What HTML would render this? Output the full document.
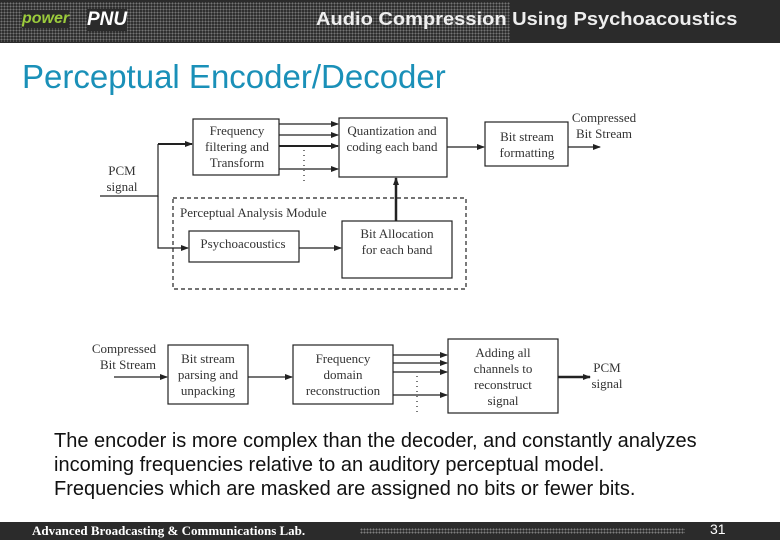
<!DOCTYPE html>
<html><head><meta charset="utf-8"><style>
body{margin:0;width:780px;height:540px;overflow:hidden;background:#fff;position:relative;font-family:"Liberation Sans",sans-serif}
.hdr{position:absolute;left:0;top:0;width:780px;height:43px;background:#2b2b2b}
.dots{position:absolute;background-image:radial-gradient(#888 0.9px,transparent 1.1px);background-size:3px 3px}
.ftr{position:absolute;left:0;top:522px;width:780px;height:18px;background:#2b2b2b}
</style></head><body>
<div class="hdr"></div>
<div class="dots" style="left:0;top:2px;width:510px;height:40px;opacity:.8"></div>
<div style="position:absolute;left:22px;top:10px;color:#9ccc3c;font-style:italic;font-size:16px;font-weight:bold;background:#2b2b2b">power</div>
<div style="position:absolute;left:87px;top:9px;color:#fff;font-style:italic;font-size:19px;font-weight:bold;background:#2b2b2b">PNU</div>
<div style="position:absolute;left:316px;top:9px;color:#eee;font-size:17px;font-weight:bold;transform:scale(1.18,1.08);transform-origin:0 0;white-space:nowrap">Audio Compression Using Psychoacoustics</div>
<div style="position:absolute;left:22px;top:58px;color:#1a90b8;font-size:33px;white-space:nowrap">Perceptual Encoder/Decoder</div>
<svg width="780" height="540" style="position:absolute;left:0;top:0" font-family="Liberation Serif,serif" font-size="13" fill="#333">
<defs><marker id="a" markerWidth="8" markerHeight="6" refX="7" refY="3" orient="auto" markerUnits="userSpaceOnUse"><path d="M0,0L8,3L0,6z" fill="#222"/></marker></defs>
<g stroke="#222" fill="none" stroke-width="1.2">
<rect x="193" y="119" width="86" height="56" fill="#fff"/>
<rect x="339" y="118" width="108" height="59" fill="#fff"/>
<rect x="485" y="122" width="83" height="44" fill="#fff"/>
<rect x="173" y="198" width="293" height="91" stroke-dasharray="4,3"/>
<rect x="189" y="231" width="110" height="31" fill="#fff"/>
<rect x="342" y="221" width="110" height="57" fill="#fff"/>
<path d="M100,196H158V144" /><path d="M158,144H192" stroke-width="2" marker-end="url(#a)"/>
<path d="M158,196V248H188" marker-end="url(#a)"/>
<path d="M279,124H338" marker-end="url(#a)"/>
<path d="M279,135H338" marker-end="url(#a)"/>
<path d="M279,169H338" marker-end="url(#a)"/>
<path d="M279,146H338" stroke-width="2" marker-end="url(#a)"/>
<path d="M304,150V182" stroke-dasharray="1,4"/>
<path d="M447,147H484" marker-end="url(#a)"/>
<path d="M568,147H600" marker-end="url(#a)"/>
<path d="M299,248H341" marker-end="url(#a)"/>
<path d="M396,221V178" stroke-width="2.5" marker-end="url(#a)"/>
<rect x="168" y="345" width="80" height="59" fill="#fff"/>
<rect x="293" y="345" width="100" height="59" fill="#fff"/>
<rect x="448" y="339" width="110" height="74" fill="#fff"/>
<path d="M114,377H167" marker-end="url(#a)"/>
<path d="M248,377H292" marker-end="url(#a)"/>
<path d="M393,355H447" marker-end="url(#a)"/>
<path d="M393,363H447" marker-end="url(#a)"/>
<path d="M393,372H447" marker-end="url(#a)"/>
<path d="M393,395H447" marker-end="url(#a)"/>
<path d="M417,376V412" stroke-dasharray="1,4"/>
<path d="M558,377H590" stroke-width="2.5" marker-end="url(#a)"/>
</g>
<g text-anchor="middle">
<text x="237" y="135">Frequency</text><text x="237" y="151">filtering and</text><text x="237" y="167">Transform</text>
<text x="392" y="135">Quantization and</text><text x="392" y="151">coding each band</text>
<text x="527" y="141">Bit stream</text><text x="527" y="157">formatting</text>
<text x="604" y="122">Compressed</text><text x="604" y="138">Bit Stream</text>
<text x="122" y="175">PCM</text><text x="122" y="191">signal</text>
<text x="243" y="248">Psychoacoustics</text>
<text x="397" y="238">Bit Allocation</text><text x="397" y="254">for each band</text>
<text x="124" y="353">Compressed</text><text x="128" y="369">Bit Stream</text>
<text x="208" y="363">Bit stream</text><text x="208" y="379">parsing and</text><text x="208" y="395">unpacking</text>
<text x="343" y="363">Frequency</text><text x="343" y="379">domain</text><text x="343" y="395">reconstruction</text>
<text x="503" y="357">Adding all</text><text x="503" y="373">channels to</text><text x="503" y="389">reconstruct</text><text x="503" y="405">signal</text>
<text x="607" y="372">PCM</text><text x="607" y="388">signal</text>
</g>
<text x="180" y="217">Perceptual Analysis Module</text>
</svg>
<div style="position:absolute;left:54px;top:429px;font-size:20px;line-height:24px;color:#111;white-space:nowrap">The encoder is more complex than the decoder, and constantly analyzes<br>incoming frequencies relative to an auditory perceptual model.<br>Frequencies which are masked are assigned no bits or fewer bits.</div>
<div class="ftr"></div>
<div class="dots" style="left:360px;top:528px;width:325px;height:6px;opacity:.9"></div>
<div style="position:absolute;left:32px;top:523px;color:#fff;font-family:'Liberation Serif',serif;font-weight:bold;font-size:13px">Advanced Broadcasting &amp; Communications Lab.</div>
<div style="position:absolute;left:710px;top:521px;color:#fff;font-size:14px">31</div>
</body></html>
